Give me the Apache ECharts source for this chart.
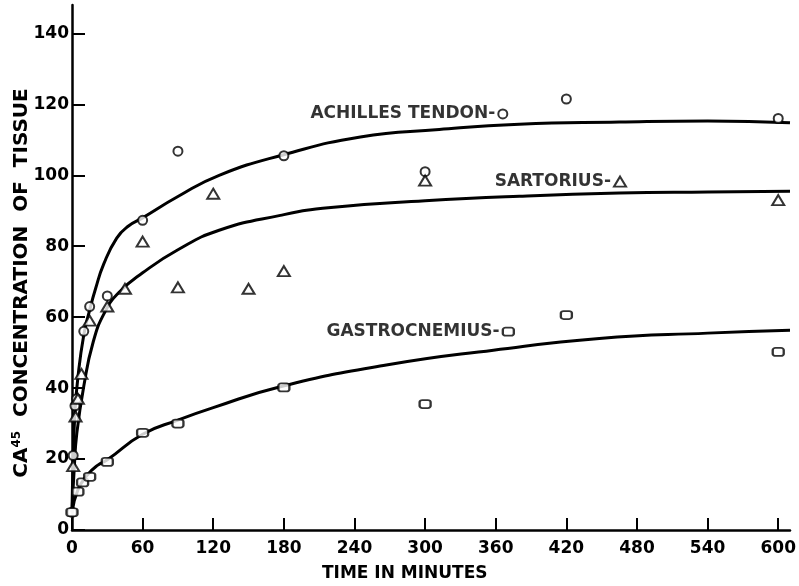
<!DOCTYPE html>
<html><head><meta charset="utf-8">
<script src="https://cdn.jsdelivr.net/npm/echarts@6/dist/echarts.min.js"></script>
<style>html,body{margin:0;padding:0;background:#fff}#c{width:799px;height:586px}</style>
</head><body><div id="c"></div>
<script>
const xTicks = [0, 60, 120, 180, 240, 300, 360, 420, 480, 540, 600];
const yTicks = [0, 20, 40, 60, 80, 100, 120, 140];

// observed points [minutes, concentration]
const achillesPts = [[0,5],[1,21],[2.5,35],[4,37],[10,56],[15,63],[30,66],[60,87.3],[90,106.8],[180,105.5],[300,101],[420,121.5],[600,116]];
const sartoriusPts = [[1,18],[3,32],[5,37],[8,44],[15,59],[30,63],[45,68],[60,81.3],[90,68.4],[120,94.8],[150,68],[180,73],[300,98.5],[600,93]];
const gastroPts = [[0,5],[5,10.8],[9,13.4],[15,15],[30,19.2],[60,27.4],[90,30],[180,40.2],[300,35.5],[420,60.6],[600,50.2]];

// fitted curves
const achillesCurve = [[0,5],[1,20],[2.5,33],[5,43],[10,55],[15,62],[20,68],[27,75],[38,82.3],[48,85.7],[60,88],[90,94],[125,100],[180,105.8],[245,110.8],[312,112.9],[380,114.4],[465,115],[540,115.3],[610,114.8]];
const sartoriusCurve = [[0,5],[2,18],[4,27],[10,40.5],[18,53],[28,61.5],[40,67],[60,72.5],[90,79],[125,84.5],[177,88.7],[220,90.9],[300,92.8],[380,94.1],[465,95],[540,95.3],[610,95.5]];
const gastroCurve = [[0,5],[5,11.3],[13,15.5],[22,18.3],[30,19.8],[60,27],[90,31],[120,34.5],[177,40.4],[267,46.5],[358,50.7],[448,54],[540,55.5],[610,56.3]];

const keyNames = ['ACHILLES TENDON-', 'SARTORIUS-', 'GASTROCNEMIUS-'];
const keyPos = [[366, 117.3], [465.6, 98.2], [370.7, 55.9]];
const xTitle = 'TIME IN MINUTES';

const FONT = 'DejaVu Sans';
const circleSym = {symbol: 'circle', symbolSize: 9};
const triSym = {symbol: 'triangle', symbolSize: [12, 10]};
const sqSym = {symbol: 'roundRect', symbolSize: [11, 8]};
const markerStyle = {color: '#fff', borderColor: '#000', borderWidth: 2};
const lineStyle = {color: '#000', width: 3};

function curveSeries(data) {
  return {type: 'line', data: data, symbol: 'none', smooth: 0.5,
    lineStyle: lineStyle, z: 2, silent: true};
}
function ptSeries(data, sym) {
  return Object.assign({type: 'scatter', data: data, itemStyle: markerStyle, z: 3}, sym);
}
const syms = [circleSym, triSym, sqSym];

const chart = echarts.init(document.getElementById('c'), null, {renderer: 'canvas'});
chart.setOption({
  animation: false,
  backgroundColor: '#fff',
  grid: {left: 72, right: 9, top: 5, bottom: 56, containLabel: false},
  xAxis: {
    type: 'value', min: 0, max: 610,
    axisLine: {lineStyle: {color: '#000', width: 2.5}},
    axisTick: {inside: true, length: 12, customValues: xTicks, lineStyle: {color: '#000', width: 2}},
    axisLabel: {customValues: xTicks, margin: 10, color: '#000', fontSize: 17, fontWeight: 'bold', fontFamily: FONT},
    splitLine: {show: false}
  },
  yAxis: {
    type: 'value', min: 0, max: 148,
    axisLine: {show: true, lineStyle: {color: '#000', width: 2.5}},
    axisTick: {show: true, inside: true, length: 13, customValues: yTicks, lineStyle: {color: '#000', width: 2}},
    axisLabel: {customValues: yTicks, margin: 3, color: '#000', fontSize: 17, fontWeight: 'bold', fontFamily: FONT},
    splitLine: {show: false}
  },
  graphic: [
    {type: 'text', left: 322, top: 565, style: {text: xTitle, fill: '#000', font: 'bold 17px "DejaVu Sans"'}},
    {type: 'text', x: 22, y: 283, rotation: Math.PI / 2,
      style: {text: '{a|CA}{s|45}{a|  CONCENTRATION  OF  TISSUE}', align: 'center', verticalAlign: 'middle', fill: '#000',
        rich: {a: {fontSize: 20, fontWeight: 'bold', fontFamily: FONT, fill: '#000', lineHeight: 22},
               s: {fontSize: 12, fontWeight: 'bold', fontFamily: FONT, fill: '#000', verticalAlign: 'top', lineHeight: 22, padding: [0, 0, 8, 0]}}}}
  ],
  series: [
    curveSeries(achillesCurve),
    curveSeries(sartoriusCurve),
    curveSeries(gastroCurve),
    ptSeries(achillesPts, circleSym),
    ptSeries(sartoriusPts, triSym),
    ptSeries(gastroPts, sqSym),
    {
      type: 'scatter', z: 3, itemStyle: markerStyle,
      data: keyPos.map((p, i) => ({value: p, name: keyNames[i], symbol: syms[i].symbol, symbolSize: syms[i].symbolSize})),
      label: {show: true, position: 'left', distance: 2, formatter: p => p.name,
        color: '#000', fontSize: 17, fontWeight: 'bold', fontFamily: FONT}
    }
  ]
});
</script></body></html>
